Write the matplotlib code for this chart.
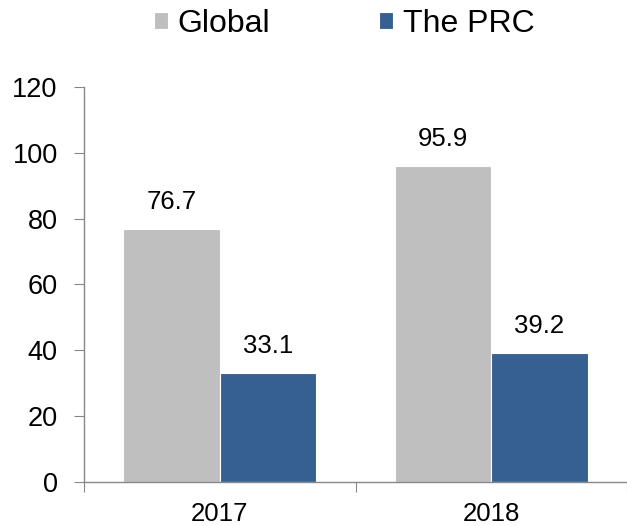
import numpy as np
import matplotlib
matplotlib.use('Agg')
import matplotlib.pyplot as plt
from matplotlib.ticker import FixedLocator

plt.rcParams['font.family'] = ['Liberation Sans', 'DejaVu Sans']

# data
years  = ['2017', '2018']
global_vals = [76.7, 95.9]
prc_vals    = [33.1, 39.2]
series_names = ['Global', 'The PRC']
colors = ['#BFBFBF', '#376092']

fig = plt.figure(figsize=(6.27, 5.26), dpi=100)
ax = fig.add_axes([0.134, 0.0845, 0.866, 0.75])

x = np.arange(len(years))
w = 0.355
for vals, off, col, name in zip([global_vals, prc_vals], [-w/2, w/2], colors, series_names):
    bars = ax.bar(x + off, vals, width=w, color=col, edgecolor='white', linewidth=0.8, label=name)
    for b, v in zip(bars, vals):
        ax.text(b.get_x() + b.get_width()/2, v + 4.6, f"{v:.1f}", ha='center', va='bottom', fontsize=18.5)

ax.set_xlim(-0.5, len(years) - 0.5)
ax.set_ylim(0, 120)
ax.set_yticks(np.arange(0, 121, 20))
ax.tick_params(axis='y', labelsize=19.5, length=7, color='#888888', pad=12)

# ticks at category boundaries, labels centred
ax.xaxis.set_major_locator(FixedLocator([-0.5, 0.5, 1.5]))
ax.set_xticklabels([])
ax.xaxis.set_minor_locator(FixedLocator(x))
ax.set_xticklabels(years, minor=True)
ax.tick_params(axis='x', which='major', length=7, color='#888888')
ax.tick_params(axis='x', which='minor', length=0, labelsize=18.5, pad=15)

for s in ['top', 'right']:
    ax.spines[s].set_visible(False)
for s in ['left', 'bottom']:
    ax.spines[s].set_color('#888888')
    ax.spines[s].set_linewidth(1)

fig.legend(loc='center', bbox_to_anchor=(0.549, 0.955), ncol=2, frameon=False,
           fontsize=23, handlelength=0.44, handleheight=0.44, handletextpad=0.3,
           columnspacing=3.4)

fig.savefig('out.png', dpi=100)
